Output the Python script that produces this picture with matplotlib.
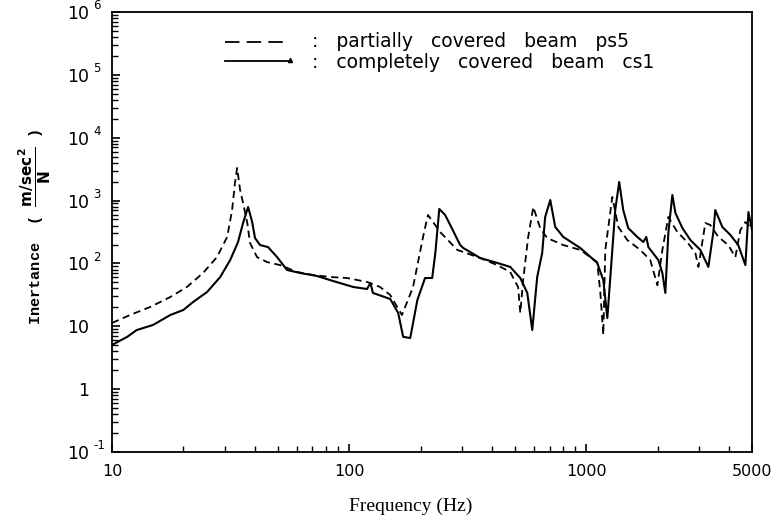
import matplotlib
matplotlib.use('Agg')
import matplotlib.pyplot as plt
import matplotlib.ticker as ticker
from matplotlib.lines import Line2D

# partially covered beam ps5 (dashed)
freq_ps5 = [10, 11.9, 14.5, 17.6, 20.7, 24.2, 27.7, 30.6, 32.1, 33.0,
            33.7, 34.7, 35.7, 37.2, 38.2, 40.9, 45.1, 51.2, 60.4, 70.5,
            83.2, 98, 119, 135, 149, 167, 186, 205, 215, 242,
            286, 357, 421, 478, 516, 527, 542, 569, 598, 639,
            684, 800, 944, 1112, 1146, 1180, 1203, 1288, 1365, 1489,
            1690, 1862, 1995, 2094, 2219, 2421, 2667, 2884, 2972, 3178,
            3336, 3606, 3972, 4253, 4466, 4688, 4920]
inert_ps5 = [11.3, 15.1, 20.3, 29.2, 42.2, 70.4, 126, 264, 708, 1905,
             3300, 1472, 915, 440, 211, 126, 105, 94, 73, 65.5,
             60.8, 58.6, 50.7, 42.2, 31.5, 15.1, 42, 264, 590, 316,
             164, 122, 94, 73, 42, 16.3, 54.5, 264, 791, 366,
             254, 196, 164, 105, 35, 7.3, 164, 1140, 380, 236,
             164, 113, 45, 164, 548, 316, 219, 147, 88, 440,
             408, 264, 196, 126, 340, 456, 380]

# completely covered beam cs1 (solid)
freq_cs1 = [10, 11.6, 12.7, 14.9, 17.6, 20.0, 22.0, 25.2, 28.6, 31.5,
            34.0, 35.7, 37.5, 39.0, 40.1, 42.1, 45.5, 49.7, 54.7, 62.1,
            73.3, 85.5, 104, 119, 123, 126, 149, 161, 169, 181,
            194, 209, 224, 231, 240, 254, 267, 294, 303, 357,
            421, 478, 527, 564, 592, 621, 652, 671, 705, 740,
            800, 944, 1112, 1180, 1227, 1288, 1325, 1377, 1432, 1503,
            1641, 1740, 1791, 1828, 2014, 2094, 2155, 2219, 2307, 2377,
            2543, 2748, 3027, 3273, 3436, 3500, 3750, 4055, 4375, 4688,
            4830, 5000]
inert_cs1 = [5.05, 6.8, 8.7, 10.5, 15.1, 18.2, 24.4, 35.2, 60.8, 113,
             219, 440, 791, 456, 254, 196, 182, 126, 78.7, 70.5,
             63, 52.6, 42.2, 39.2, 48.9, 33.9, 27.2, 16.3, 6.8, 6.5,
             26.2, 58.6, 58.6, 147, 735, 590, 408, 196, 176, 122,
             102, 88, 58.6, 33.9, 8.7, 60.8, 147, 548, 1020, 380,
             264, 176, 102, 54.5, 13.5, 164, 708, 1977, 708, 366,
             264, 219, 264, 182, 113, 70.5, 33.9, 305, 1227, 634,
             366, 236, 164, 88, 316, 708, 380, 283, 196, 94,
             658, 340]

xticks = [10, 100, 1000, 5000]
xlabels = ['10', '100', '1000', '5000']
yticks = [1e-1, 1, 10, 1e2, 1e3, 1e4, 1e5, 1e6]
ybase = ['10', '1', '10', '10', '10', '10', '10', '10']
yexp = ['-1', '', '', '2', '3', '4', '5', '6']
legend_labels = [':   partially   covered   beam   ps5',
                 ':   completely   covered   beam   cs1']

W, H = 778, 516
fig = plt.figure(figsize=(W/100, H/100), dpi=100)
ax = fig.add_axes([112/W, 1-452/H, 640/W, 440/H])

ax.plot(freq_ps5, inert_ps5, color='black', lw=1.3, ls=(0, (4, 2.5)))
ax.plot(freq_cs1, inert_cs1, color='black', lw=1.5)

ax.set_xscale('log')
ax.set_yscale('log')
ax.set_xlim(10, 5000)
ax.set_ylim(1e-1, 1e6)

ax.set_xticks(xticks)
ax.set_xticklabels(xlabels, fontsize=11.5)
ax.xaxis.set_minor_locator(ticker.FixedLocator(
    [20, 30, 40, 50, 60, 70, 80, 90, 200, 300, 400, 500, 600, 700, 800, 900,
     2000, 3000, 4000]))
ax.xaxis.set_minor_formatter(ticker.NullFormatter())
ax.set_yticks(yticks)
ax.set_yticklabels(ybase, fontsize=12.5)
ax.yaxis.set_minor_locator(ticker.LogLocator(base=10, subs=range(2, 10), numticks=20))
ax.yaxis.set_minor_formatter(ticker.NullFormatter())

ax.tick_params(which='major', direction='in', length=6, width=1.2)
ax.tick_params(which='minor', direction='in', length=4, width=1)
ax.tick_params(axis='x', which='major', pad=8.5)
ax.tick_params(axis='y', which='major', pad=16.5)
for s in ax.spines.values():
    s.set_linewidth(1.3)

# exponents hanging to the right of the "10"
for v, e in zip(yticks, yexp):
    if e:
        ax.annotate(e, xy=(0, v), xycoords=('axes fraction', 'data'),
                    xytext=(-13.5, 4.5), textcoords='offset points',
                    ha='left', va='center', fontsize=8.5)

fig.text(411/W, 1-506/H, 'Frequency (Hz)', family='Liberation Serif',
         fontsize=14, ha='center', va='center')

fig.text(35/W, 1-227/H,
         r'Inertance  ( $\dfrac{\mathbf{m/sec^2}}{\mathbf{N}}$ )',
         rotation=90, ha='center', va='center',
         family='Liberation Mono', fontweight='bold', fontsize=11)

# legend drawn by hand: short line sample, then ": text"
fig.add_artist(Line2D([225/W, 290/W], [1-42/H, 1-42/H], color='black',
                      lw=1.3, ls=(0, (8, 4))))
fig.add_artist(Line2D([225/W, 290/W], [1-61/H, 1-61/H], color='black', lw=1.3))
fig.add_artist(Line2D([290/W], [1-60/H], color='black', marker='^', ms=3))
fig.text(312/W, 1-41.5/H, legend_labels[0], fontsize=13.5, va='center', ha='left')
fig.text(312/W, 1-62.5/H, legend_labels[1], fontsize=13.5, va='center', ha='left')

fig.savefig('out.png', dpi=100)
